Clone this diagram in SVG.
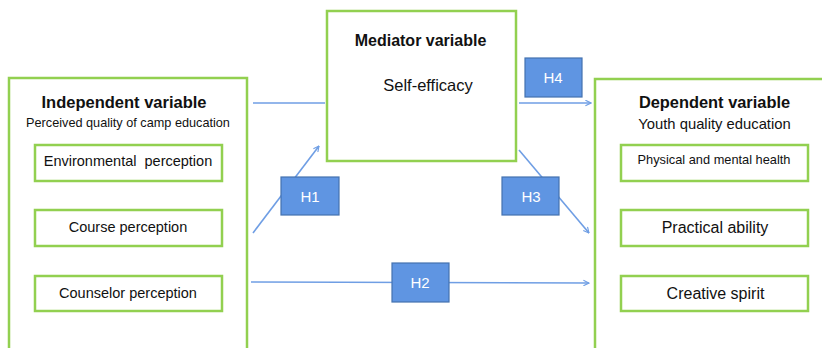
<svg xmlns="http://www.w3.org/2000/svg" width="822" height="348" viewBox="0 0 822 348">
<style>
.big{fill:#fff;stroke:#92D050;stroke-width:2.5}
.item{fill:#fff;stroke:#92D050;stroke-width:2.5}
.h{fill:#5F95E2;stroke:#4472B0;stroke-width:1.2}
.ht{font-family:"Liberation Sans",Arial,sans-serif;font-size:15px;fill:#fff;text-anchor:middle}
.t{font-family:"Liberation Sans",Arial,sans-serif;fill:#111;text-anchor:middle;white-space:pre}
.b{font-weight:bold}
.c{stroke:#6F9EE4;stroke-width:1.6;fill:none}
</style>
<defs>
<marker id="ah" viewBox="0 0 10 10" refX="9" refY="5" markerWidth="7" markerHeight="7" markerUnits="userSpaceOnUse" orient="auto">
<path d="M1,1 L9,5 L1,9" fill="none" stroke="#6F9EE4" stroke-width="1.6"/>
</marker>
</defs>
<rect width="822" height="348" fill="#fff"/>
<g id="independent">
<rect class="big" x="9" y="78" width="238" height="290"/>
<text class="t b" x="124" y="108" font-size="16.5">Independent variable</text>
<text class="t" x="128" y="127" font-size="12.7">Perceived quality of camp education</text>
</g>
<g id="env"><rect class="item" x="35" y="145" width="187" height="36"/><text class="t" x="128" y="166" font-size="14.5" xml:space="preserve">Environmental  perception</text></g>
<g id="course"><rect class="item" x="35" y="210" width="187" height="36"/><text class="t" x="128" y="232" font-size="14.5">Course perception</text></g>
<g id="counselor"><rect class="item" x="35" y="276" width="187" height="35"/><text class="t" x="128" y="298" font-size="14.5">Counselor perception</text></g>
<g id="mediator">
<rect class="big" x="327" y="11" width="189" height="150"/>
<text class="t b" x="420.5" y="46" font-size="16">Mediator variable</text>
<text class="t" x="428" y="91" font-size="16.5">Self-efficacy</text>
</g>
<g id="dependent">
<rect class="big" x="595" y="79" width="240" height="290"/>
<text class="t b" x="714.5" y="108" font-size="16.4">Dependent variable</text>
<text class="t" x="714.5" y="129" font-size="14.8">Youth quality education</text>
</g>
<g id="health"><rect class="item" x="621" y="145" width="187" height="36"/><text class="t" x="714" y="164" font-size="12.8">Physical and mental health</text></g>
<g id="practical"><rect class="item" x="621" y="210" width="187" height="36"/><text class="t" x="715" y="233" font-size="16">Practical ability</text></g>
<g id="creative"><rect class="item" x="621" y="276" width="187" height="35"/><text class="t" x="715.5" y="299" font-size="16">Creative spirit</text></g>
<g id="connectors">
<line class="c" x1="253" y1="103" x2="325" y2="103"/>
<line class="c" x1="519" y1="103" x2="591" y2="103" marker-end="url(#ah)"/>
<line class="c" x1="253" y1="233" x2="319" y2="146" marker-end="url(#ah)"/>
<line class="c" x1="519" y1="150" x2="589" y2="233" marker-end="url(#ah)"/>
<line class="c" x1="251" y1="282" x2="589" y2="283" marker-end="url(#ah)"/>
</g>
<g id="H1"><rect class="h" x="281" y="177" width="58" height="38"/><text class="ht" x="310" y="202">H1</text></g>
<g id="H2"><rect class="h" x="392" y="263" width="57" height="39"/><text class="ht" x="420" y="288">H2</text></g>
<g id="H3"><rect class="h" x="502" y="177" width="57" height="38"/><text class="ht" x="531" y="202">H3</text></g>
<g id="H4"><rect class="h" x="525" y="58" width="57" height="39"/><text class="ht" x="553" y="83">H4</text></g>
</svg>
